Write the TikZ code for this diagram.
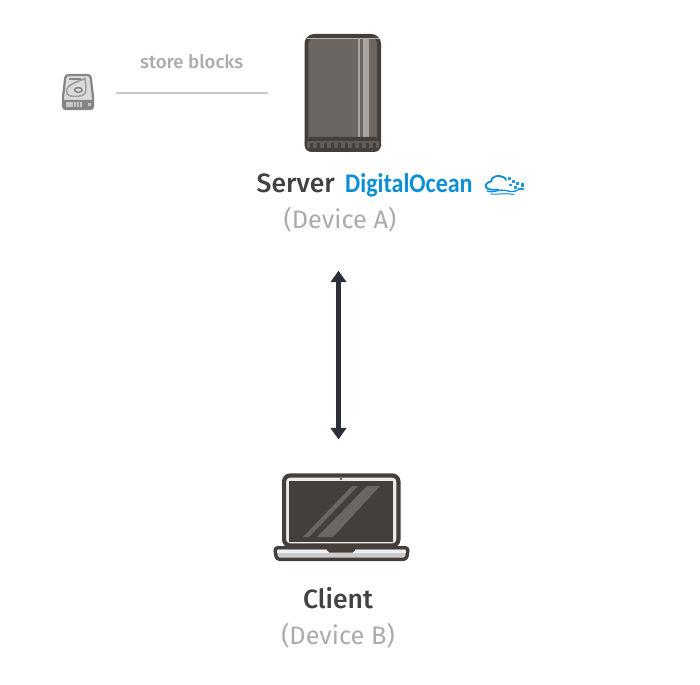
\documentclass[tikz,border=0pt]{standalone}
\usepackage{fontspec}
\usetikzlibrary{arrows.meta}
\setmainfont{Fira Sans}
\newfontfamily\medfont{Fira Sans Medium}
\newfontfamily\brandfont[FakeStretch=0.89]{Carlito}
\definecolor{inkdark}{HTML}{453F3B}
\definecolor{shell}{HTML}{6B6662}
\definecolor{stripe}{HTML}{A8A5A2}
\definecolor{namegray}{HTML}{414141}
\definecolor{subgray}{HTML}{ABABAB}
\definecolor{ocean}{HTML}{0A8FD6}
\definecolor{arrowink}{HTML}{2C2F3A}
\definecolor{diskgray}{HTML}{858585}
\begin{document}
\begin{tikzpicture}[
  x=1pt, y=-1pt,
  devname/.style={text=namegray, inner sep=0pt, font=\medfont\fontsize{26.5}{30}\selectfont},
  devsub/.style={text=subgray, inner sep=0pt, font=\fontsize{25.3}{30}\selectfont},
  storenote/.style={text=subgray, inner sep=0pt, font=\medfont\fontsize{18.6}{22}\selectfont},
  link/.style={draw=black!22, line width=1.4pt},
  sync/.style={draw=arrowink, line width=4.2pt, {Triangle[width=15.5pt,length=11.5pt]}-{Triangle[width=15.5pt,length=11.5pt]}}
]
\useasboundingbox (0,0) rectangle (700,684);

% server
\node[draw=inkdark, fill=shell, line width=3.8pt, rounded corners=8pt, minimum width=72.7pt, minimum height=114.2pt, inner sep=0pt] (server) at (342.75,93) {};
\fill[stripe!80] (306.5,38) rectangle (379,39.5);
\fill[stripe] (358,38) rectangle (360,137);
\fill[stripe] (363,38) rectangle (369,137);
\fill[inkdark, rounded corners=7pt] (304.5,137) -- (381,137) -- (381,152) -- (304.5,152) -- cycle;
\fill[shell!75!inkdark] (307,141.5) rectangle (378.5,148.5);
\foreach \i in {0,...,9}
  \fill[inkdark] (310+\i*7,143.5) rectangle +(2.6,5);

% disk
\node[inner sep=0pt, minimum width=32pt, minimum height=36pt] (disk) at (78,92) {};
\draw[fill=black!14, draw=diskgray, line width=2.2pt, rounded corners=3pt] (65.5,75) -- (90.5,75) -- (93,97) -- (93,109) -- (63,109) -- (63,97) -- cycle;
\fill[diskgray, rounded corners=2pt] (63,100) -- (93,100) -- (93,110) -- (63,110) -- cycle;
\fill[black!22] (65.5,102.5) rectangle (82,107);
\foreach \i in {0,1,2}
  \fill[diskgray] (72.5+\i*3.2,102.5) rectangle +(1,4.5);
\fill[black!22] (88,103.5) rectangle +(2.5,2.5);
\draw[black!38, line width=1.6pt] (66.5,91) .. controls (66.5,85) and (77,82) .. (85,78.5) .. controls (85.5,84) and (87,90) .. (85,93.5) .. controls (83,96.5) and (73,97.5) .. (69,95.5) .. controls (67.5,94.5) and (66.5,93) .. (66.5,91) -- cycle;
\draw[diskgray, line width=1.5pt] (78.3,90) ellipse (3.8pt and 2.4pt);
\fill[diskgray] (69,78.5) rectangle (81,80.5);

% laptop
\node[draw=inkdark, fill=white!92!black, line width=4.2pt, rounded corners=6pt, minimum width=114.3pt, minimum height=70pt, inner sep=0pt] (laptop) at (341.25,510.5) {};
\fill[inkdark] (289,481) rectangle (393,542);
\fill[inkdark] (341,479) circle (1.2pt);
\fill[shell] (303,537) -- (309,537) -- (358,486) -- (352,486) -- cycle;
\fill[shell] (317,537) -- (333,537) -- (380,486) -- (367,486) -- cycle;
\draw[fill=black!20, draw=inkdark, line width=3.4pt, line join=round, rounded corners=3pt] (274.7,547.7) -- (408.3,547.7) -- (406.5,559.3) -- (276.5,559.3) -- cycle;
\fill[white!94!black] (277,549.5) rectangle (406,553);
\fill[inkdark, rounded corners=2pt] (326.5,546) -- (355.5,546) -- (354.5,552.5) -- (327.5,552.5) -- cycle;

% labels
\node[devname, anchor=base west] (servername) at (256.5,192.5) {Server};
\node[text=ocean, inner sep=0pt, anchor=base west, font=\brandfont\bfseries\fontsize{27}{30}\selectfont] (brand) at (345,192.5) {DigitalOcean};
\node[devsub] (devicea) at (340,220) {(Device A)};
\node[storenote] (store) at (191.7,62) {store blocks};
\node[devname] (client) at (338,598.5) {Client};
\node[devsub] (deviceb) at (338,636) {(Device B)};

% cloud
\node[inner sep=0pt, minimum width=40pt, minimum height=20pt] (cloud) at (505,185) {};
\draw[ocean, line width=1.8pt, line cap=round] (498,189.5) .. controls (490,190.5) and (484,189) .. (486,184.5) .. controls (487,182) and (490,182) .. (491,181.5) .. controls (491,177) and (498,174) .. (503,177) .. controls (505,178) and (506,179) .. (506,180);
\draw[ocean, line width=1.3pt, line cap=round] (487,191) .. controls (495,193.5) and (499,188.5) .. (506,190.5) .. controls (511,192) and (514,192) .. (518,190);
\draw[ocean!80, line width=1.2pt, line cap=round] (491,194) .. controls (498,195) and (504,192.5) .. (514,194.5);
\foreach \px/\py/\ps in {508/177/3, 512/180/3, 516/182/3, 520.5/183.5/3.5, 514/186/3, 518/188/2.5, 509/184/2.5, 521/188/2.5}
  \fill[ocean!90] (\px,\py) rectangle +(\ps,\ps);

% connectors
\draw[link, shorten <=22pt, shorten >=36.5pt] (disk.east |- server.center) -- (server.west);
\draw[sync] ([xshift=.5pt,yshift=-38pt]devicea.south -| client.center) -- ([xshift=.5pt,yshift=34pt]laptop.north -| client.center);
\end{tikzpicture}
\end{document}
